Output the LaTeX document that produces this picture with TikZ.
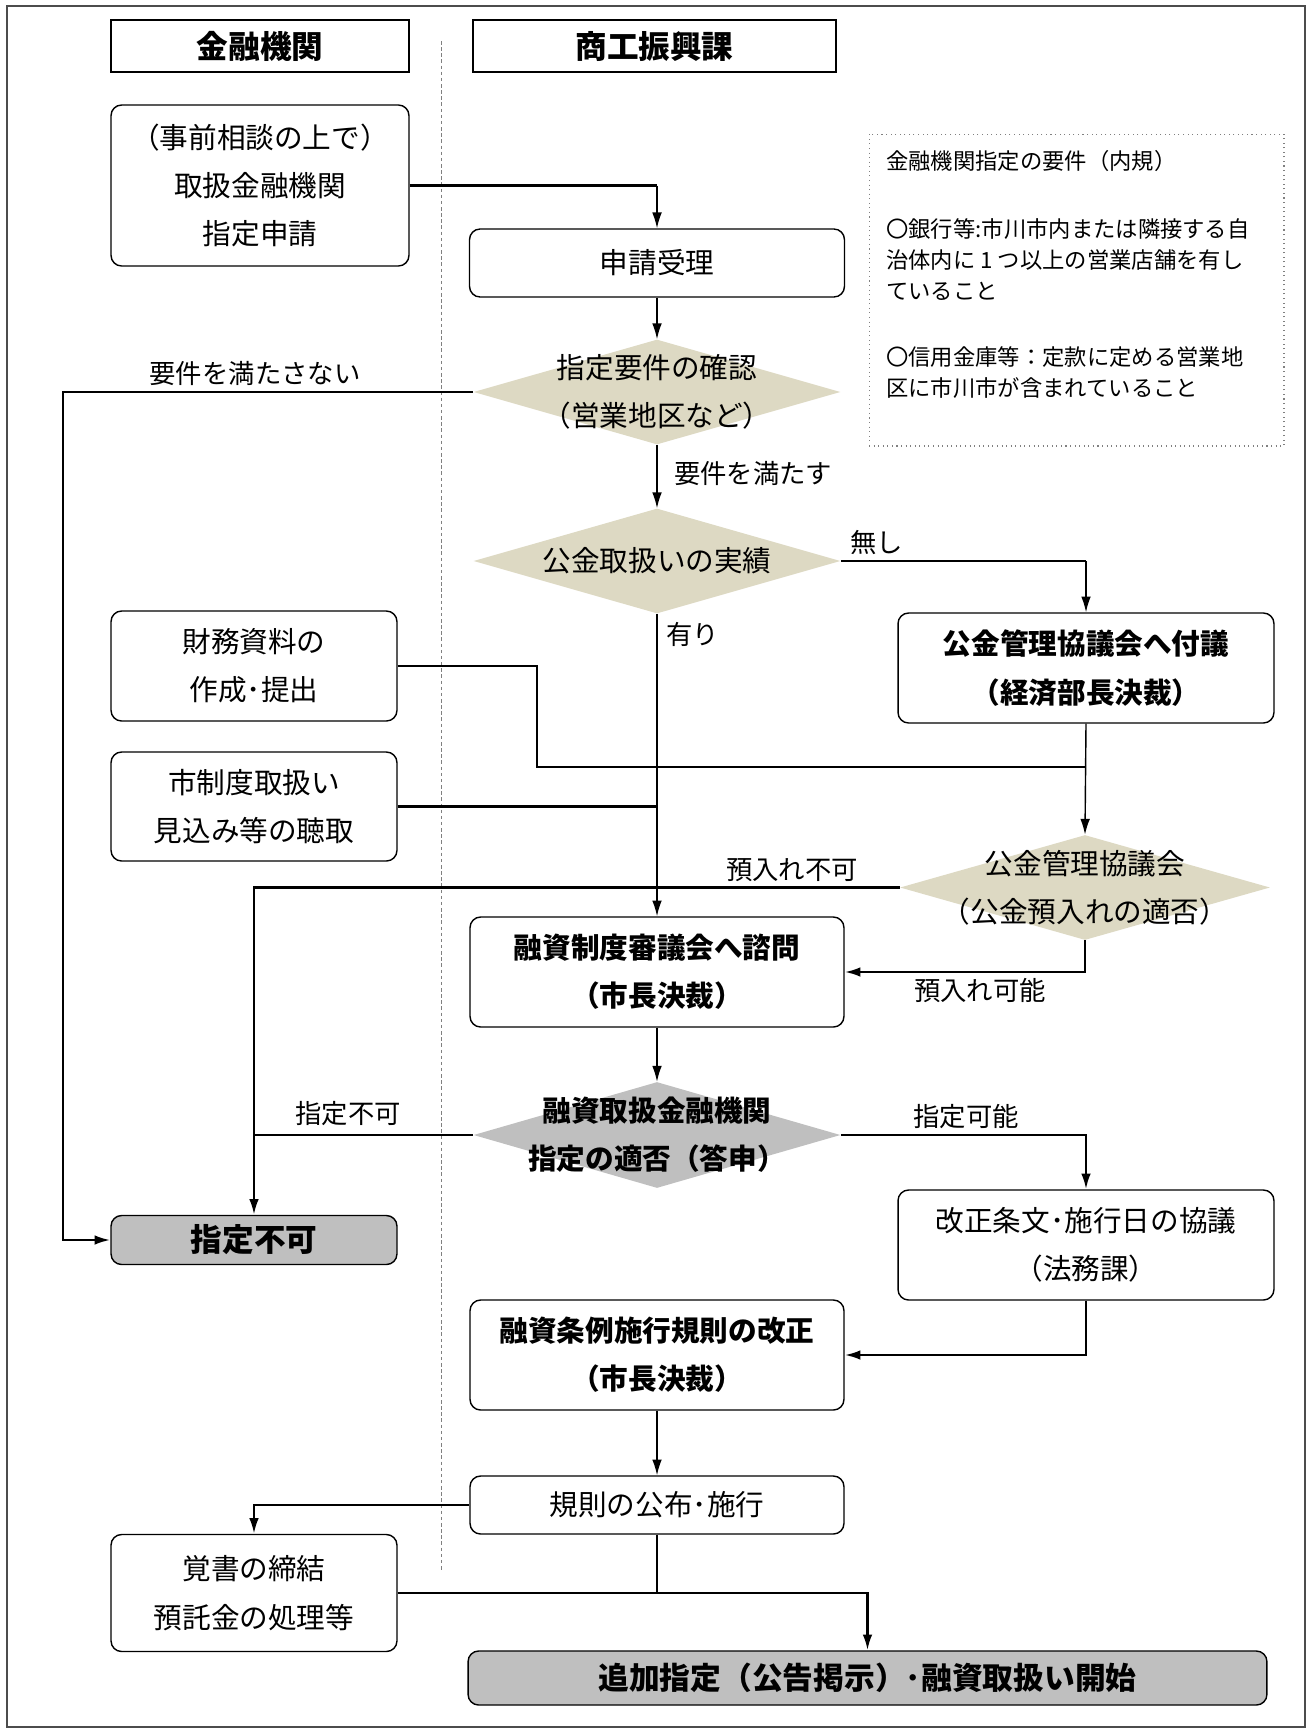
\documentclass[tikz,border=0pt]{standalone}
\usepackage{fontspec}
\setmainfont{Noto Sans CJK JP}
\usetikzlibrary{shapes.geometric}
\usetikzlibrary{arrows.meta}
\usetikzlibrary{positioning}

\definecolor{diaTan}{HTML}{DDD9C3}
\definecolor{boxGray}{HTML}{BFBFBF}

\tikzset{
  head/.style={draw, line width=1.2pt, inner sep=0pt, font=\bfseries\fontsize{18}{20}\selectfont},
  box/.style={draw, rounded corners=6pt, line width=0.8pt, inner sep=0pt, align=center,
    font=\fontsize{16.3}{27.5}\selectfont},
  boldbox/.style={box, font=\bfseries\fontsize{16.3}{27.5}\selectfont},
  dia/.style={diamond, fill=diaTan, inner sep=0pt},
  diatext/.style={align=center, inner sep=0pt, font=\fontsize{16.3}{27.5}\selectfont},
  lbl/.style={inner sep=1pt, font=\fontsize{15}{17}\selectfont},
  lnk/.style={line width=1.4pt},
  thn/.style={line width=0.8pt},
  arr/.style={-{Latex[length=9pt,width=5.5pt]}},
  divider/.style={gray, line width=0.5pt, dash pattern=on 2pt off 1.5pt},
}

\begin{document}
\begin{tikzpicture}[x=0.02cm, y=-0.02cm]
  \pgfmathsetmacro{\ColL}{254.}
  \pgfmathsetmacro{\ColM}{657.}
  \pgfmathsetmacro{\ColR}{1086.}
  \useasboundingbox (0,0) rectangle (1309,1731);
  \draw[line width=0.6pt, black!70] (7,6) rectangle (1305,1727);
  \draw[divider] (441,41) -- (441,1571);

  % headers
  \node[head, minimum width=5.96cm, minimum height=1.04cm] (hFin) at (260,46) {金融機関};
  \node[head, minimum width=7.26cm, minimum height=1.04cm] (hSho) at (654.5,46) {商工振興課};

  % boxes
  \node[box, minimum width=5.96cm, minimum height=3.22cm] (apply) at (260,185.5) {（事前相談の上で）\\取扱金融機関\\指定申請};
  \node[box, minimum width=7.5cm, minimum height=1.36cm] (recv) at (\ColM,263) {申請受理};
  \node[boldbox, minimum width=7.52cm, minimum height=2.2cm] (kyogi) at (\ColR,668) {公金管理協議会へ付議\\（経済部長決裁）};
  \node[box, minimum width=5.72cm, minimum height=2.2cm] (zaimu) at (\ColL,666) {財務資料の\\作成･提出};
  \node[box, minimum width=5.72cm, minimum height=2.18cm] (shisei) at (\ColL,806.5) {市制度取扱い\\見込み等の聴取};
  \node[boldbox, minimum width=7.48cm, minimum height=2.2cm] (shimon) at (\ColM,972) {融資制度審議会へ諮問\\（市長決裁）};
  \node[boldbox, fill=boxGray, minimum width=5.72cm, minimum height=0.98cm,
    font=\bfseries\fontsize{18}{20}\selectfont] (fuka) at (\ColL,1240) {指定不可};
  \node[box, minimum width=7.52cm, minimum height=2.2cm] (kaisei) at (\ColR,1245) {改正条文･施行日の協議\\（法務課）};
  \node[boldbox, minimum width=7.48cm, minimum height=2.2cm] (kisoku) at (\ColM,1355) {融資条例施行規則の改正\\（市長決裁）};
  \node[box, minimum width=7.48cm, minimum height=1.16cm] (koufu) at (\ColM,1505) {規則の公布･施行};
  \node[box, minimum width=5.72cm, minimum height=2.34cm] (oboe) at (\ColL,1593) {覚書の締結\\預託金の処理等};
  \node[boldbox, fill=boxGray, minimum width=15.98cm, minimum height=1.08cm,
    font=\bfseries\fontsize{17.5}{20}\selectfont] (kaishi) at (867.5,1678) {追加指定（公告掲示）･融資取扱い開始};

  % decisions
  \node[dia, minimum width=7.34cm, minimum height=2.1cm] (d1) at (\ColM,392) {};
  \node[diatext] (d1t) at (d1) {指定要件の確認\\（営業地区など）};
  \node[dia, minimum width=7.34cm, minimum height=2.1cm] (d2) at (\ColM,561) {};
  \node[diatext] (d2t) at (d2) {公金取扱いの実績};
  \node[dia, minimum width=7.4cm, minimum height=2.1cm] (d3) at (1085,887.5) {};
  \node[diatext] (d3t) at (d3) {公金管理協議会\\（公金預入れの適否）};
  \node[dia, fill=boxGray, minimum width=7.34cm, minimum height=2.12cm] (d4) at (\ColM,1135) {};
  \node[diatext, font=\bfseries\fontsize{16.3}{27.5}\selectfont] (d4t) at (d4) {融資取扱金融機関\\指定の適否（答申）};

  % note
  \node[draw=gray, dotted, line width=0.6pt, minimum width=8.3cm, minimum height=6.24cm] (note) at (1076.5,290) {};
  \node[anchor=north west, align=left, inner sep=0pt, font=\fontsize{12.7}{17.6}\selectfont] (noteT) at (886,150)
    {金融機関指定の要件（内規）\\[21pt]
     〇銀行等:市川市内または隣接する自\\
     治体内に 1 つ以上の営業店舗を有し\\
     ていること\\[20pt]
     〇信用金庫等：定款に定める営業地\\
     区に市川市が含まれていること};

  % connectors
  \draw[lnk] (apply.east) -- (apply.east -| recv.north);
  \draw[thn, arr] (apply.east -| recv.north) -- (recv.north);
  \draw[thn, arr] (recv.south) -- (d1.north);
  \coordinate (lft) at (63,392);
  \draw[lnk, arr] (d1.west) -- (lft) |- (fuka.west);
  \draw[thn, arr] (d1.south) -- (d2.north);
  \draw[lnk] (d2.east) -- (d2.east -| kyogi.north);
  \draw[thn, arr] (d2.east -| kyogi.north) -- (kyogi.north);
  \draw[thn, arr] (d2.south) -- (shimon.north);
  \coordinate (zj) at (537,767);
  \draw[thn] (zaimu.east) -| (zj) -- (zj -| kyogi.south);
  \draw[thn, arr] (kyogi.south) -- (d3.north);
  \draw[lnk] (shisei.east) -- (shisei.east -| shimon.north);
  \draw[lnk, arr] (d3.west) -| (fuka.north);
  \draw[lnk, arr] (d3.south) |- (shimon.east);
  \draw[thn, arr] (shimon.south) -- (d4.north);
  \draw[lnk] (d4.west) -- (d4.west -| fuka.north);
  \draw[lnk, arr] (d4.east) -| (kaisei.north);
  \draw[lnk, arr] (kaisei.south) |- (kisoku.east);
  \draw[thn, arr] (kisoku.south) -- (koufu.north);
  \draw[lnk, arr] (koufu.west) -| (oboe.north);
  \draw[thn] (koufu.south) -- (koufu.south |- oboe.east);
  \draw[lnk, arr] (oboe.east) -| (kaishi.north);

  % labels
  \node[lbl] (lbNg) at (255,374) {要件を満たさない};
  \node[lbl, anchor=west] (lbOk) at (672,474) {要件を満たす};
  \node[lbl, anchor=west] (lbNone) at (848,543) {無し};
  \node[lbl, anchor=west] (lbYes) at (664,634) {有り};
  \node[lbl] (lbDepNg) at (792,870) {預入れ不可};
  \node[lbl] (lbDepOk) at (980,990) {預入れ可能};
  \node[lbl] (lbDesNg) at (348,1114) {指定不可};
  \node[lbl] (lbDesOk) at (966,1117) {指定可能};
\end{tikzpicture}
\end{document}
